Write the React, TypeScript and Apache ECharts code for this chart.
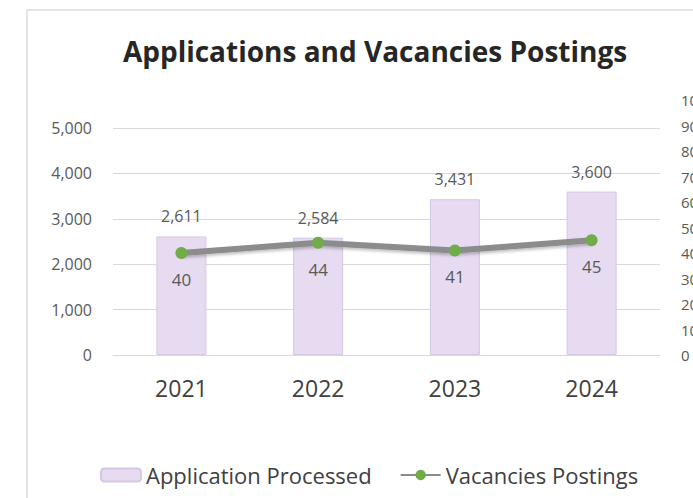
import React, { useEffect, useRef } from "react";
import * as echarts from "echarts";

const years = ["2021", "2022", "2023", "2024"];
const applicationsProcessed = [2611, 2584, 3431, 3600];
const vacanciesPostings = [40, 44, 41, 45];

const FONT = "'Open Sans', 'Noto Sans', sans-serif";
const fmt = (v: number) => v.toLocaleString("en-US");

export default function App() {
  const ref = useRef<HTMLDivElement>(null);
  useEffect(() => {
    document.body.style.margin = "0";
    const chart = echarts.init(ref.current!, null, { renderer: "svg" });
    chart.setOption({
      animation: false,
      backgroundColor: "#ffffff",
      textStyle: { fontFamily: FONT },
      title: {
        text: "Applications and Vacancies Postings",
        left: 370,
        textAlign: "center",
        top: 32,
        textStyle: { fontFamily: FONT, fontSize: 28, fontWeight: "bold", color: "#262626" },
      },
      graphic: [
        {
          type: "rect",
          shape: { x: 27, y: 10, width: 720, height: 520 },
          style: { fill: "none", stroke: "#dcdcdc", lineWidth: 1.5 },
          silent: true,
          z: -1,
        },
      ],
      grid: [
        { left: 113, right: 33, top: 128, bottom: 143, outerBoundsMode: "none" },
        { left: 113, right: 33, top: 100, bottom: 143, outerBoundsMode: "none" },
      ],
      legend: {
        left: 95,
        top: 459,
        itemWidth: 40,
        itemHeight: 13,
        itemGap: 28,
        textStyle: { fontFamily: FONT, fontSize: 22, color: "#404040" },
        data: ["Application Processed", "Vacancies Postings"],
      },
      xAxis: [
        {
          type: "category",
          gridIndex: 0,
          data: years,
          axisLine: { lineStyle: { color: "#d9d9d9" } },
          axisTick: { show: false },
          axisLabel: { fontFamily: FONT, fontSize: 23, color: "#404040", margin: 21 },
        },
        { type: "category", gridIndex: 1, data: years, show: false },
      ],
      yAxis: [
        {
          type: "value",
          gridIndex: 0,
          min: 0,
          max: 5000,
          interval: 1000,
          axisLine: { show: false },
          axisTick: { show: false },
          splitLine: { lineStyle: { color: "#d9d9d9" } },
          axisLabel: { fontFamily: FONT, fontSize: 16, color: "#595959", margin: 21, formatter: (v: number) => fmt(v) },
        },
        {
          type: "value",
          gridIndex: 1,
          position: "right",
          min: 0,
          max: 100,
          interval: 10,
          axisLine: { show: false },
          axisTick: { show: false },
          splitLine: { show: false },
          axisLabel: { fontFamily: FONT, fontSize: 15, color: "#595959", margin: 21, align: "left" },
        },
      ],
      series: [
        {
          name: "Application Processed",
          type: "bar",
          xAxisIndex: 0,
          yAxisIndex: 0,
          data: applicationsProcessed,
          barWidth: 50,
          itemStyle: { color: "#e6dbf1", borderColor: "#d3c7e4", borderWidth: 1 },
          label: {
            show: true,
            position: "top",
            distance: 12,
            fontFamily: FONT,
            fontSize: 16,
            color: "#595959",
            formatter: (p: any) => fmt(p.value),
          },
        },
        {
          name: "Vacancies Postings",
          type: "line",
          xAxisIndex: 1,
          yAxisIndex: 1,
          data: vacanciesPostings,
          symbol: "circle",
          symbolSize: 12,
          itemStyle: { color: "#70ad47" },
          lineStyle: {
            color: "#8c8c8c",
            width: 6,
            shadowColor: "rgba(0,0,0,0.25)",
            shadowBlur: 3,
            shadowOffsetY: 2,
          },
          label: {
            show: true,
            position: "bottom",
            distance: 12,
            fontFamily: FONT,
            fontSize: 17,
            color: "#595959",
          },
          z: 5,
        },
      ],
    });
    return () => chart.dispose();
  }, []);
  return <div ref={ref} style={{ width: 693, height: 498 }} />;
}
